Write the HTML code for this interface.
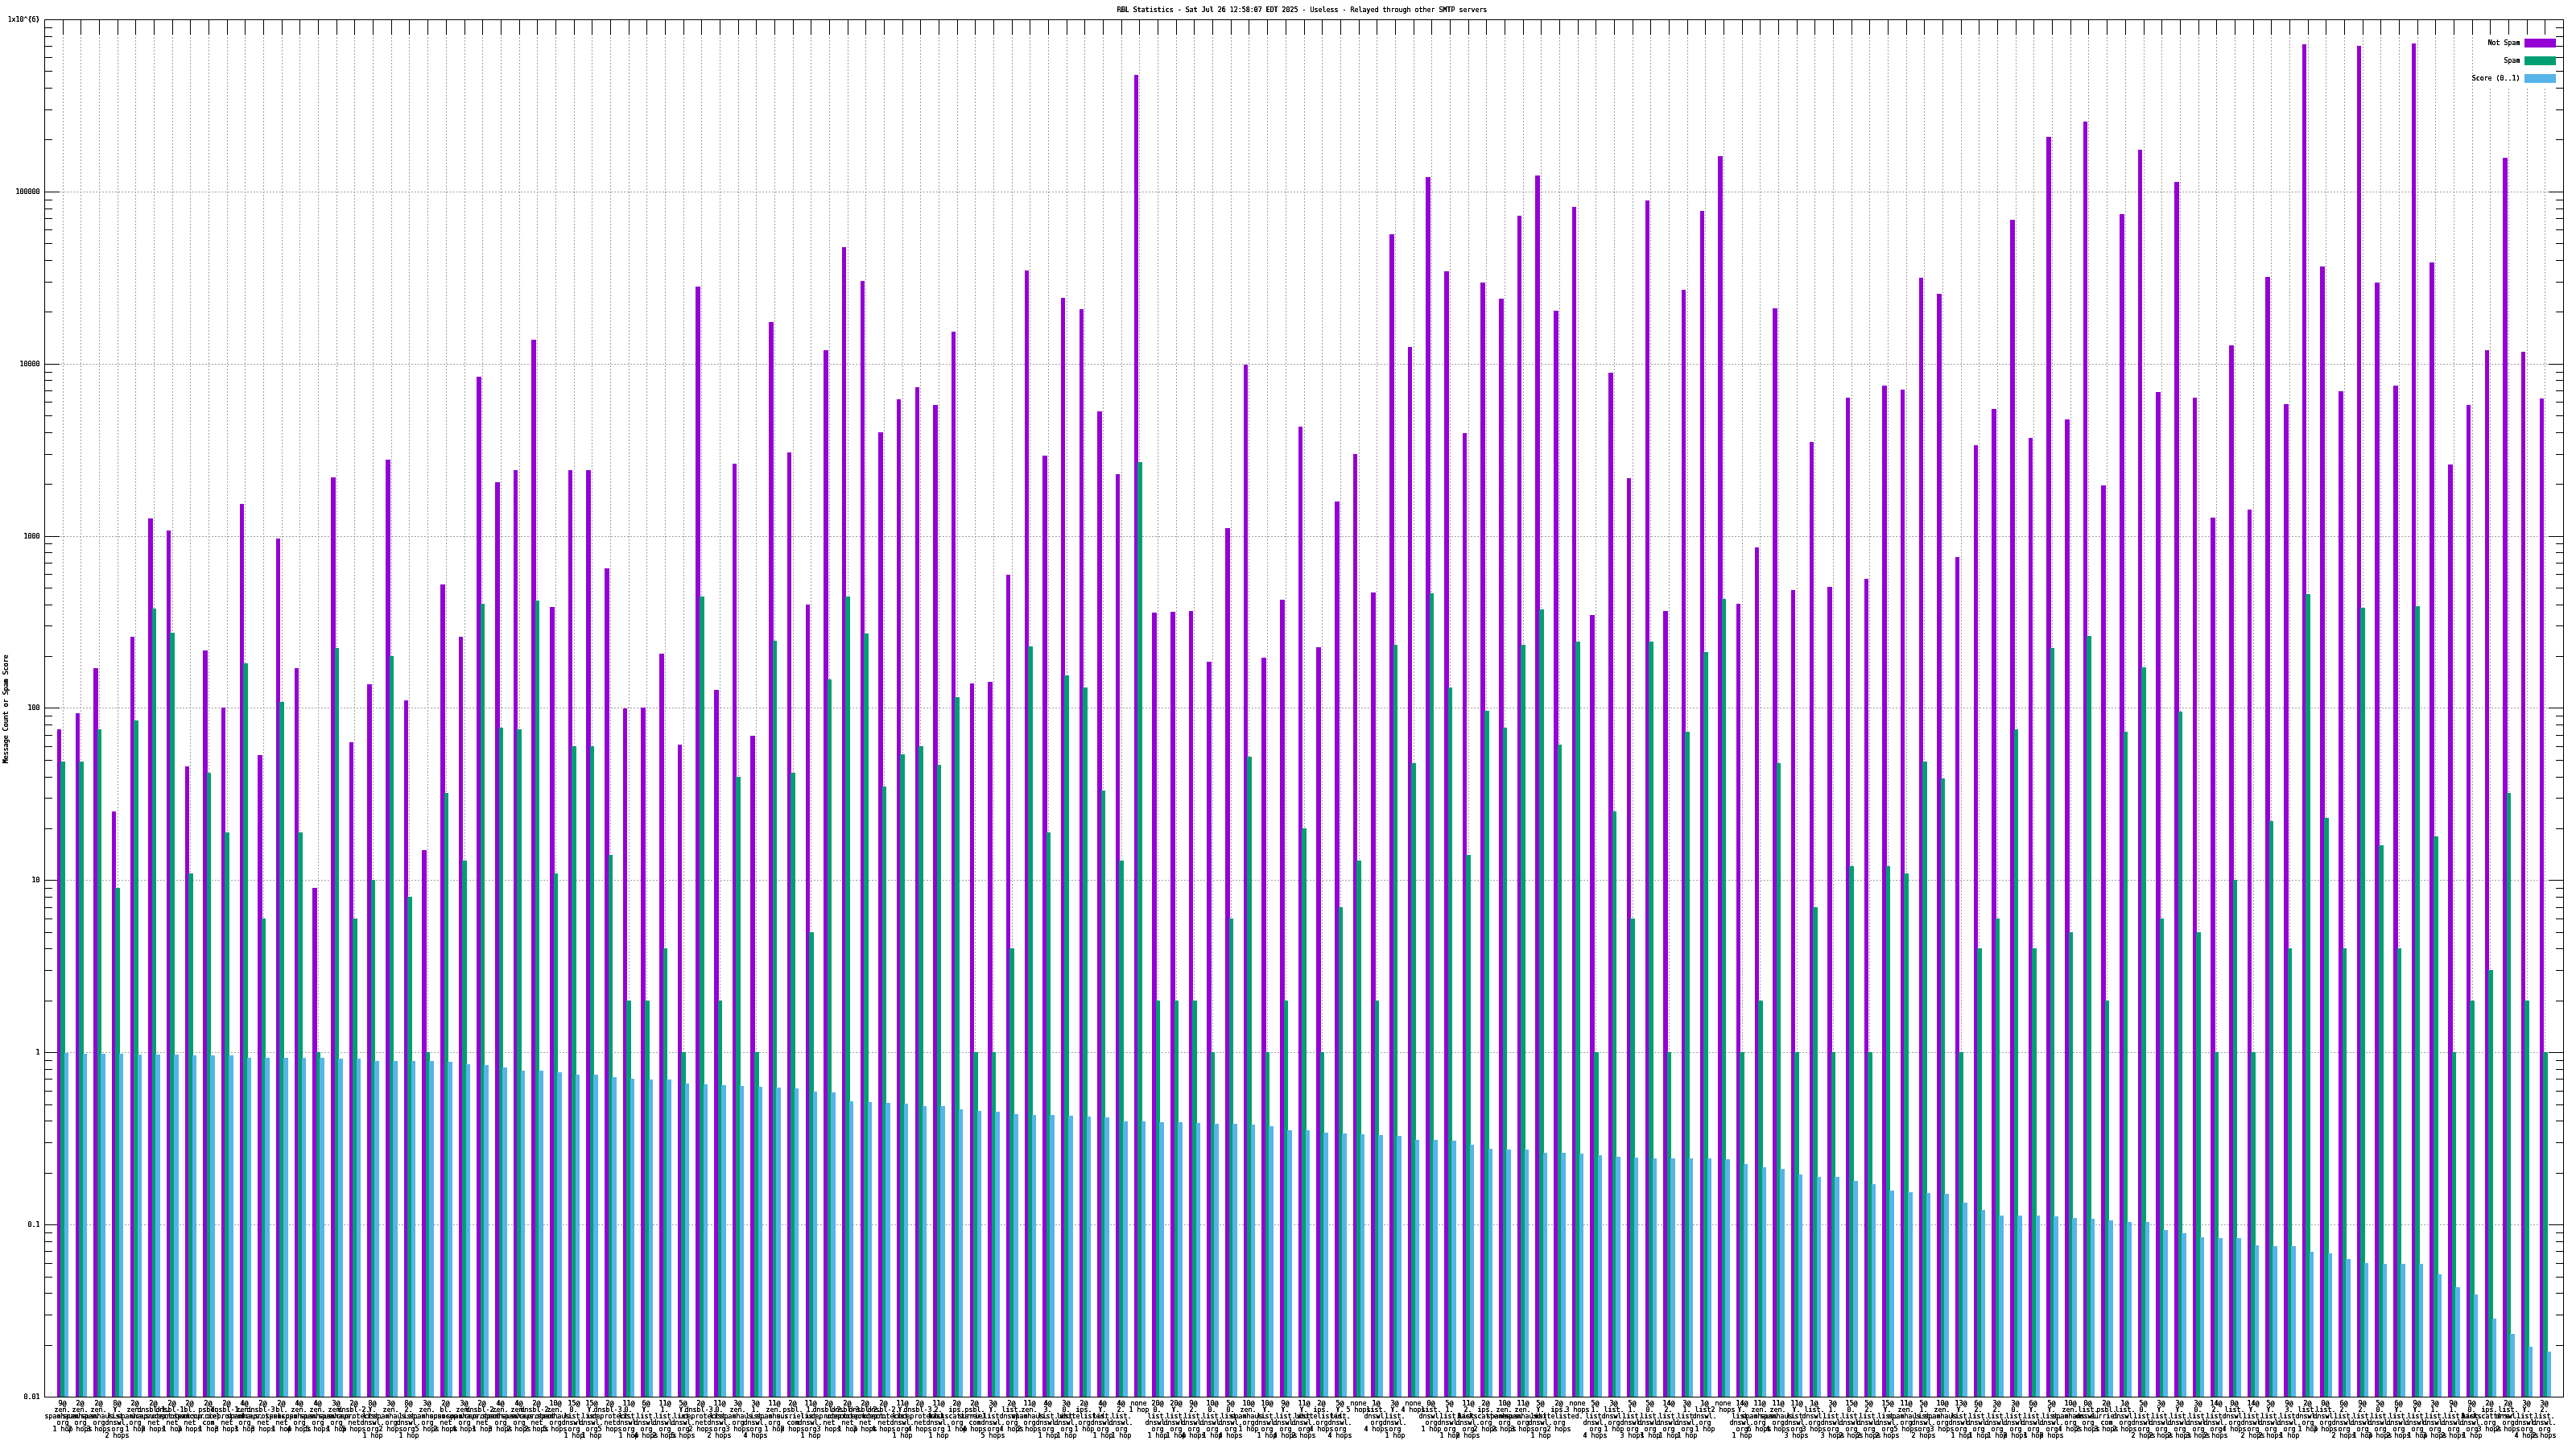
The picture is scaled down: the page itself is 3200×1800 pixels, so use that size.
<!DOCTYPE html>
<html><head><meta charset="utf-8"><title>RBL Statistics</title>
<style>html,body{margin:0;padding:0;background:#fff}svg{display:block}text{font-family:"DejaVu Sans Mono", "Liberation Mono", monospace;font-size:8.3050px;fill:#000;stroke:#000;stroke-width:0.08px;white-space:pre}.g{stroke:#a0a0a0;stroke-width:1;stroke-dasharray:2 2;fill:none}.k{stroke:#000;stroke-width:1;fill:none}.m{text-anchor:middle}.e{text-anchor:end}.a{stroke-width:0.08px}</style></head><body>
<svg width="3200" height="1800" viewBox="0 0 3200 1800" shape-rendering="crispEdges">
<defs><filter id="c" x="0" y="0" width="100%" height="100%"><feComponentTransfer><feFuncA type="linear" slope="2.4" intercept="-0.25"/></feComponentTransfer></filter></defs>
<rect width="3200" height="1800" fill="#fff"/>
<path class="g" d="M78.5 1736 V43M100.5 1736 V43M123.5 1736 V43M146.5 1736 V43M168.5 1736 V43M191.5 1736 V43M214.5 1736 V43M236.5 1736 V43M259.5 1736 V43M282.5 1736 V43M304.5 1736 V43M327.5 1736 V43M350.5 1736 V43M372.5 1736 V43M395.5 1736 V43M418.5 1736 V43M440.5 1736 V43M463.5 1736 V43M486.5 1736 V43M508.5 1736 V43M531.5 1736 V43M554.5 1736 V43M577.5 1736 V43M599.5 1736 V43M622.5 1736 V43M645.5 1736 V43M667.5 1736 V43M690.5 1736 V43M713.5 1736 V43M735.5 1736 V43M758.5 1736 V43M781.5 1736 V43M803.5 1736 V43M826.5 1736 V43M849.5 1736 V43M871.5 1736 V43M894.5 1736 V43M917.5 1736 V43M939.5 1736 V43M962.5 1736 V43M985.5 1736 V43M1007.5 1736 V43M1030.5 1736 V43M1053.5 1736 V43M1075.5 1736 V43M1098.5 1736 V43M1121.5 1736 V43M1143.5 1736 V43M1166.5 1736 V43M1189.5 1736 V43M1211.5 1736 V43M1234.5 1736 V43M1257.5 1736 V43M1279.5 1736 V43M1302.5 1736 V43M1325.5 1736 V43M1347.5 1736 V43M1370.5 1736 V43M1393.5 1736 V43M1415.5 1736 V43M1438.5 1736 V43M1461.5 1736 V43M1483.5 1736 V43M1506.5 1736 V43M1529.5 1736 V43M1551.5 1736 V43M1574.5 1736 V43M1597.5 1736 V43M1620.5 1736 V43M1642.5 1736 V43M1665.5 1736 V43M1688.5 1736 V43M1710.5 1736 V43M1733.5 1736 V43M1756.5 1736 V43M1778.5 1736 V43M1801.5 1736 V43M1824.5 1736 V43M1846.5 1736 V43M1869.5 1736 V43M1892.5 1736 V43M1914.5 1736 V43M1937.5 1736 V43M1960.5 1736 V43M1982.5 1736 V43M2005.5 1736 V43M2028.5 1736 V43M2050.5 1736 V43M2073.5 1736 V43M2096.5 1736 V43M2118.5 1736 V43M2141.5 1736 V43M2164.5 1736 V43M2186.5 1736 V43M2209.5 1736 V43M2232.5 1736 V43M2254.5 1736 V43M2277.5 1736 V43M2300.5 1736 V43M2322.5 1736 V43M2345.5 1736 V43M2368.5 1736 V43M2390.5 1736 V43M2413.5 1736 V43M2436.5 1736 V43M2458.5 1736 V43M2481.5 1736 V43M2504.5 1736 V43M2526.5 1736 V43M2549.5 1736 V43M2572.5 1736 V43M2594.5 1736 V43M2617.5 1736 V43M2640.5 1736 V43M2663.5 1736 V43M2685.5 1736 V43M2708.5 1736 V43M2731.5 1736 V43M2753.5 1736 V43M2776.5 1736 V43M2799.5 1736 V43M2821.5 1736 V43M2844.5 1736 V43M2867.5 1736 V43M2889.5 1736 V43M2912.5 1736 V43M2935.5 1736 V43M2957.5 1736 V43M2980.5 1736 V43M3003.5 1736 V43M3025.5 1736 V43M3048.5 1736 V43M3071.5 1736 V43M3093.5 1736 V43M3116.5 1736 V43M3139.5 1736 V43M3161.5 1736 V43M55 1521.5 H3184M55 1307.5 H3184M55 1093.5 H3184M55 879.5 H3184M55 666.5 H3184M55 452.5 H3184M55 238.5 H3184"/>
<rect x="3075" y="43" width="109" height="67" fill="#fff"/>
<path class="k" d="M78.5 24 v19M78.5 1736 v-19M100.5 24 v19M100.5 1736 v-19M123.5 24 v19M123.5 1736 v-19M146.5 24 v19M146.5 1736 v-19M168.5 24 v19M168.5 1736 v-19M191.5 24 v19M191.5 1736 v-19M214.5 24 v19M214.5 1736 v-19M236.5 24 v19M236.5 1736 v-19M259.5 24 v19M259.5 1736 v-19M282.5 24 v19M282.5 1736 v-19M304.5 24 v19M304.5 1736 v-19M327.5 24 v19M327.5 1736 v-19M350.5 24 v19M350.5 1736 v-19M372.5 24 v19M372.5 1736 v-19M395.5 24 v19M395.5 1736 v-19M418.5 24 v19M418.5 1736 v-19M440.5 24 v19M440.5 1736 v-19M463.5 24 v19M463.5 1736 v-19M486.5 24 v19M486.5 1736 v-19M508.5 24 v19M508.5 1736 v-19M531.5 24 v19M531.5 1736 v-19M554.5 24 v19M554.5 1736 v-19M577.5 24 v19M577.5 1736 v-19M599.5 24 v19M599.5 1736 v-19M622.5 24 v19M622.5 1736 v-19M645.5 24 v19M645.5 1736 v-19M667.5 24 v19M667.5 1736 v-19M690.5 24 v19M690.5 1736 v-19M713.5 24 v19M713.5 1736 v-19M735.5 24 v19M735.5 1736 v-19M758.5 24 v19M758.5 1736 v-19M781.5 24 v19M781.5 1736 v-19M803.5 24 v19M803.5 1736 v-19M826.5 24 v19M826.5 1736 v-19M849.5 24 v19M849.5 1736 v-19M871.5 24 v19M871.5 1736 v-19M894.5 24 v19M894.5 1736 v-19M917.5 24 v19M917.5 1736 v-19M939.5 24 v19M939.5 1736 v-19M962.5 24 v19M962.5 1736 v-19M985.5 24 v19M985.5 1736 v-19M1007.5 24 v19M1007.5 1736 v-19M1030.5 24 v19M1030.5 1736 v-19M1053.5 24 v19M1053.5 1736 v-19M1075.5 24 v19M1075.5 1736 v-19M1098.5 24 v19M1098.5 1736 v-19M1121.5 24 v19M1121.5 1736 v-19M1143.5 24 v19M1143.5 1736 v-19M1166.5 24 v19M1166.5 1736 v-19M1189.5 24 v19M1189.5 1736 v-19M1211.5 24 v19M1211.5 1736 v-19M1234.5 24 v19M1234.5 1736 v-19M1257.5 24 v19M1257.5 1736 v-19M1279.5 24 v19M1279.5 1736 v-19M1302.5 24 v19M1302.5 1736 v-19M1325.5 24 v19M1325.5 1736 v-19M1347.5 24 v19M1347.5 1736 v-19M1370.5 24 v19M1370.5 1736 v-19M1393.5 24 v19M1393.5 1736 v-19M1415.5 24 v19M1415.5 1736 v-19M1438.5 24 v19M1438.5 1736 v-19M1461.5 24 v19M1461.5 1736 v-19M1483.5 24 v19M1483.5 1736 v-19M1506.5 24 v19M1506.5 1736 v-19M1529.5 24 v19M1529.5 1736 v-19M1551.5 24 v19M1551.5 1736 v-19M1574.5 24 v19M1574.5 1736 v-19M1597.5 24 v19M1597.5 1736 v-19M1620.5 24 v19M1620.5 1736 v-19M1642.5 24 v19M1642.5 1736 v-19M1665.5 24 v19M1665.5 1736 v-19M1688.5 24 v19M1688.5 1736 v-19M1710.5 24 v19M1710.5 1736 v-19M1733.5 24 v19M1733.5 1736 v-19M1756.5 24 v19M1756.5 1736 v-19M1778.5 24 v19M1778.5 1736 v-19M1801.5 24 v19M1801.5 1736 v-19M1824.5 24 v19M1824.5 1736 v-19M1846.5 24 v19M1846.5 1736 v-19M1869.5 24 v19M1869.5 1736 v-19M1892.5 24 v19M1892.5 1736 v-19M1914.5 24 v19M1914.5 1736 v-19M1937.5 24 v19M1937.5 1736 v-19M1960.5 24 v19M1960.5 1736 v-19M1982.5 24 v19M1982.5 1736 v-19M2005.5 24 v19M2005.5 1736 v-19M2028.5 24 v19M2028.5 1736 v-19M2050.5 24 v19M2050.5 1736 v-19M2073.5 24 v19M2073.5 1736 v-19M2096.5 24 v19M2096.5 1736 v-19M2118.5 24 v19M2118.5 1736 v-19M2141.5 24 v19M2141.5 1736 v-19M2164.5 24 v19M2164.5 1736 v-19M2186.5 24 v19M2186.5 1736 v-19M2209.5 24 v19M2209.5 1736 v-19M2232.5 24 v19M2232.5 1736 v-19M2254.5 24 v19M2254.5 1736 v-19M2277.5 24 v19M2277.5 1736 v-19M2300.5 24 v19M2300.5 1736 v-19M2322.5 24 v19M2322.5 1736 v-19M2345.5 24 v19M2345.5 1736 v-19M2368.5 24 v19M2368.5 1736 v-19M2390.5 24 v19M2390.5 1736 v-19M2413.5 24 v19M2413.5 1736 v-19M2436.5 24 v19M2436.5 1736 v-19M2458.5 24 v19M2458.5 1736 v-19M2481.5 24 v19M2481.5 1736 v-19M2504.5 24 v19M2504.5 1736 v-19M2526.5 24 v19M2526.5 1736 v-19M2549.5 24 v19M2549.5 1736 v-19M2572.5 24 v19M2572.5 1736 v-19M2594.5 24 v19M2594.5 1736 v-19M2617.5 24 v19M2617.5 1736 v-19M2640.5 24 v19M2640.5 1736 v-19M2663.5 24 v19M2663.5 1736 v-19M2685.5 24 v19M2685.5 1736 v-19M2708.5 24 v19M2708.5 1736 v-19M2731.5 24 v19M2731.5 1736 v-19M2753.5 24 v19M2753.5 1736 v-19M2776.5 24 v19M2776.5 1736 v-19M2799.5 24 v19M2799.5 1736 v-19M2821.5 24 v19M2821.5 1736 v-19M2844.5 24 v19M2844.5 1736 v-19M2867.5 24 v19M2867.5 1736 v-19M2889.5 24 v19M2889.5 1736 v-19M2912.5 24 v19M2912.5 1736 v-19M2935.5 24 v19M2935.5 1736 v-19M2957.5 24 v19M2957.5 1736 v-19M2980.5 24 v19M2980.5 1736 v-19M3003.5 24 v19M3003.5 1736 v-19M3025.5 24 v19M3025.5 1736 v-19M3048.5 24 v19M3048.5 1736 v-19M3071.5 24 v19M3071.5 1736 v-19M3093.5 24 v19M3093.5 1736 v-19M3116.5 24 v19M3116.5 1736 v-19M3139.5 24 v19M3139.5 1736 v-19M3161.5 24 v19M3161.5 1736 v-19M55 1735.5 h19M3185 1735.5 h-19M55 1671.5 h10M3185 1671.5 h-10M55 1633.5 h10M3185 1633.5 h-10M55 1606.5 h10M3185 1606.5 h-10M55 1586.5 h10M3185 1586.5 h-10M55 1569.5 h10M3185 1569.5 h-10M55 1554.5 h10M3185 1554.5 h-10M55 1542.5 h10M3185 1542.5 h-10M55 1531.5 h10M3185 1531.5 h-10M55 1521.5 h19M3185 1521.5 h-19M55 1457.5 h10M3185 1457.5 h-10M55 1419.5 h10M3185 1419.5 h-10M55 1392.5 h10M3185 1392.5 h-10M55 1372.5 h10M3185 1372.5 h-10M55 1355.5 h10M3185 1355.5 h-10M55 1340.5 h10M3185 1340.5 h-10M55 1328.5 h10M3185 1328.5 h-10M55 1317.5 h10M3185 1317.5 h-10M55 1307.5 h19M3185 1307.5 h-19M55 1243.5 h10M3185 1243.5 h-10M55 1205.5 h10M3185 1205.5 h-10M55 1178.5 h10M3185 1178.5 h-10M55 1158.5 h10M3185 1158.5 h-10M55 1141.5 h10M3185 1141.5 h-10M55 1127.5 h10M3185 1127.5 h-10M55 1114.5 h10M3185 1114.5 h-10M55 1103.5 h10M3185 1103.5 h-10M55 1093.5 h19M3185 1093.5 h-19M55 1029.5 h10M3185 1029.5 h-10M55 991.5 h10M3185 991.5 h-10M55 965.5 h10M3185 965.5 h-10M55 944.5 h10M3185 944.5 h-10M55 927.5 h10M3185 927.5 h-10M55 913.5 h10M3185 913.5 h-10M55 900.5 h10M3185 900.5 h-10M55 889.5 h10M3185 889.5 h-10M55 879.5 h19M3185 879.5 h-19M55 815.5 h10M3185 815.5 h-10M55 777.5 h10M3185 777.5 h-10M55 751.5 h10M3185 751.5 h-10M55 730.5 h10M3185 730.5 h-10M55 713.5 h10M3185 713.5 h-10M55 699.5 h10M3185 699.5 h-10M55 686.5 h10M3185 686.5 h-10M55 675.5 h10M3185 675.5 h-10M55 666.5 h19M3185 666.5 h-19M55 601.5 h10M3185 601.5 h-10M55 564.5 h10M3185 564.5 h-10M55 537.5 h10M3185 537.5 h-10M55 516.5 h10M3185 516.5 h-10M55 499.5 h10M3185 499.5 h-10M55 485.5 h10M3185 485.5 h-10M55 472.5 h10M3185 472.5 h-10M55 462.5 h10M3185 462.5 h-10M55 452.5 h19M3185 452.5 h-19M55 387.5 h10M3185 387.5 h-10M55 350.5 h10M3185 350.5 h-10M55 323.5 h10M3185 323.5 h-10M55 302.5 h10M3185 302.5 h-10M55 285.5 h10M3185 285.5 h-10M55 271.5 h10M3185 271.5 h-10M55 259.5 h10M3185 259.5 h-10M55 248.5 h10M3185 248.5 h-10M55 238.5 h19M3185 238.5 h-19M55 173.5 h10M3185 173.5 h-10M55 136.5 h10M3185 136.5 h-10M55 109.5 h10M3185 109.5 h-10M55 88.5 h10M3185 88.5 h-10M55 71.5 h10M3185 71.5 h-10M55 57.5 h10M3185 57.5 h-10M55 45.5 h10M3185 45.5 h-10M55 34.5 h10M3185 34.5 h-10M55 24.5 h19M3185 24.5 h-19"/>
<path fill="#9400d3" d="M71 1735H76V906H71zM94 1735H99V886H94zM116 1735H122V830H116zM139 1735H144V1008H139zM162 1735H167V791H162zM184 1735H190V644H184zM207 1735H212V659H207zM230 1735H235V952H230zM252 1735H258V808H252zM275 1735H280V879H275zM298 1735H303V626H298zM320 1735H326V938H320zM343 1735H348V669H343zM366 1735H371V830H366zM388 1735H394V1103H388zM411 1735H417V593H411zM434 1735H439V922H434zM456 1735H462V850H456zM479 1735H485V571H479zM502 1735H507V870H502zM524 1735H530V1056H524zM547 1735H553V726H547zM570 1735H575V791H570zM592 1735H598V468H592zM615 1735H621V599H615zM638 1735H643V584H638zM660 1735H666V422H660zM683 1735H689V754H683zM706 1735H711V584H706zM728 1735H734V584H728zM751 1735H757V706H751zM774 1735H779V880H774zM796 1735H802V879H796zM819 1735H825V812H819zM842 1735H847V925H842zM864 1735H870V356H864zM887 1735H893V857H887zM910 1735H915V576H910zM932 1735H938V914H932zM955 1735H961V400H955zM978 1735H983V562H978zM1001 1735H1006V751H1001zM1023 1735H1029V435H1023zM1046 1735H1051V307H1046zM1069 1735H1074V349H1069zM1091 1735H1097V537H1091zM1114 1735H1119V496H1114zM1137 1735H1142V481H1137zM1159 1735H1165V503H1159zM1182 1735H1187V412H1182zM1205 1735H1210V849H1205zM1227 1735H1233V847H1227zM1250 1735H1255V714H1250zM1273 1735H1278V336H1273zM1295 1735H1301V566H1295zM1318 1735H1323V370H1318zM1341 1735H1346V384H1341zM1363 1735H1369V511H1363zM1386 1735H1391V589H1386zM1409 1735H1414V93H1409zM1431 1735H1437V761H1431zM1454 1735H1460V760H1454zM1477 1735H1482V759H1477zM1499 1735H1505V822H1499zM1522 1735H1528V656H1522zM1545 1735H1550V453H1545zM1567 1735H1573V817H1567zM1590 1735H1596V745H1590zM1613 1735H1618V530H1613zM1635 1735H1641V804H1635zM1658 1735H1664V623H1658zM1681 1735H1686V564H1681zM1703 1735H1709V736H1703zM1726 1735H1732V291H1726zM1749 1735H1754V431H1749zM1771 1735H1777V220H1771zM1794 1735H1800V337H1794zM1817 1735H1822V538H1817zM1839 1735H1845V351H1839zM1862 1735H1868V371H1862zM1885 1735H1890V268H1885zM1907 1735H1913V218H1907zM1930 1735H1936V386H1930zM1953 1735H1958V257H1953zM1975 1735H1981V764H1975zM1998 1735H2004V463H1998zM2021 1735H2026V594H2021zM2044 1735H2049V249H2044zM2066 1735H2072V759H2066zM2089 1735H2094V360H2089zM2112 1735H2117V262H2112zM2134 1735H2140V194H2134zM2157 1735H2162V750H2157zM2180 1735H2185V680H2180zM2202 1735H2208V383H2202zM2225 1735H2230V733H2225zM2248 1735H2253V549H2248zM2270 1735H2276V729H2270zM2293 1735H2298V494H2293zM2316 1735H2321V719H2316zM2338 1735H2344V479H2338zM2361 1735H2366V484H2361zM2384 1735H2389V345H2384zM2406 1735H2412V365H2406zM2429 1735H2434V692H2429zM2452 1735H2457V553H2452zM2474 1735H2480V508H2474zM2497 1735H2503V273H2497zM2520 1735H2525V544H2520zM2542 1735H2548V170H2542zM2565 1735H2571V521H2565zM2588 1735H2593V151H2588zM2610 1735H2616V603H2610zM2633 1735H2639V266H2633zM2656 1735H2661V186H2656zM2678 1735H2684V487H2678zM2701 1735H2707V226H2701zM2724 1735H2729V494H2724zM2746 1735H2752V643H2746zM2769 1735H2775V429H2769zM2792 1735H2797V633H2792zM2814 1735H2820V344H2814zM2837 1735H2843V502H2837zM2860 1735H2865V55H2860zM2882 1735H2888V331H2882zM2905 1735H2911V486H2905zM2928 1735H2933V57H2928zM2950 1735H2956V351H2950zM2973 1735H2979V479H2973zM2996 1735H3001V54H2996zM3018 1735H3024V326H3018zM3041 1735H3047V577H3041zM3064 1735H3069V503H3064zM3087 1735H3092V435H3087zM3109 1735H3115V196H3109zM3132 1735H3137V437H3132zM3155 1735H3160V495H3155z"/>
<path fill="#009e73" d="M75 1735H81V946H75zM98 1735H104V946H98zM121 1735H126V906H121zM143 1735H149V1103H143zM166 1735H172V895H166zM189 1735H194V756H189zM211 1735H217V786H211zM234 1735H240V1085H234zM257 1735H262V960H257zM279 1735H285V1034H279zM302 1735H308V824H302zM325 1735H330V1141H325zM347 1735H353V872H347zM370 1735H376V1034H370zM393 1735H398V1307H393zM416 1735H421V805H416zM438 1735H444V1141H438zM461 1735H466V1093H461zM484 1735H489V815H484zM506 1735H512V1114H506zM529 1735H534V1307H529zM552 1735H557V985H552zM574 1735H580V1069H574zM597 1735H602V750H597zM620 1735H625V904H620zM642 1735H648V906H642zM665 1735H670V746H665zM688 1735H693V1085H688zM710 1735H716V927H710zM733 1735H738V927H733zM756 1735H761V1062H756zM778 1735H784V1243H778zM801 1735H807V1243H801zM824 1735H829V1178H824zM846 1735H852V1307H846zM869 1735H875V741H869zM892 1735H897V1243H892zM914 1735H920V965H914zM937 1735H943V1307H937zM960 1735H965V796H960zM982 1735H988V960H982zM1005 1735H1011V1158H1005zM1028 1735H1033V844H1028zM1050 1735H1056V741H1050zM1073 1735H1079V787H1073zM1096 1735H1101V977H1096zM1118 1735H1124V937H1118zM1141 1735H1147V927H1141zM1164 1735H1169V950H1164zM1186 1735H1192V866H1186zM1209 1735H1215V1307H1209zM1232 1735H1237V1307H1232zM1254 1735H1260V1178H1254zM1277 1735H1283V803H1277zM1300 1735H1305V1034H1300zM1322 1735H1328V839H1322zM1345 1735H1351V854H1345zM1368 1735H1373V982H1368zM1390 1735H1396V1069H1390zM1413 1735H1419V574H1413zM1436 1735H1441V1243H1436zM1459 1735H1464V1243H1459zM1481 1735H1487V1243H1481zM1504 1735H1509V1307H1504zM1527 1735H1532V1141H1527zM1549 1735H1555V940H1549zM1572 1735H1577V1307H1572zM1595 1735H1600V1243H1595zM1617 1735H1623V1029H1617zM1640 1735H1645V1307H1640zM1663 1735H1668V1127H1663zM1685 1735H1691V1069H1685zM1708 1735H1713V1243H1708zM1731 1735H1736V801H1731zM1753 1735H1759V948H1753zM1776 1735H1781V737H1776zM1799 1735H1804V854H1799zM1821 1735H1827V1062H1821zM1844 1735H1850V883H1844zM1867 1735H1872V904H1867zM1889 1735H1895V801H1889zM1912 1735H1918V757H1912zM1935 1735H1940V925H1935zM1957 1735H1963V797H1957zM1980 1735H1986V1307H1980zM2003 1735H2008V1008H2003zM2025 1735H2031V1141H2025zM2048 1735H2054V797H2048zM2071 1735H2076V1307H2071zM2093 1735H2099V909H2093zM2116 1735H2122V810H2116zM2139 1735H2144V744H2139zM2161 1735H2167V1307H2161zM2184 1735H2190V1243H2184zM2207 1735H2212V948H2207zM2229 1735H2235V1307H2229zM2252 1735H2258V1127H2252zM2275 1735H2280V1307H2275zM2297 1735H2303V1076H2297zM2320 1735H2326V1307H2320zM2343 1735H2348V1076H2343zM2365 1735H2371V1085H2365zM2388 1735H2394V946H2388zM2411 1735H2416V967H2411zM2433 1735H2439V1307H2433zM2456 1735H2462V1178H2456zM2479 1735H2484V1141H2479zM2502 1735H2507V906H2502zM2524 1735H2530V1178H2524zM2547 1735H2552V805H2547zM2570 1735H2575V1158H2570zM2592 1735H2598V790H2592zM2615 1735H2620V1243H2615zM2638 1735H2643V909H2638zM2660 1735H2666V829H2660zM2683 1735H2688V1141H2683zM2706 1735H2711V884H2706zM2728 1735H2734V1158H2728zM2751 1735H2756V1307H2751zM2774 1735H2779V1093H2774zM2796 1735H2802V1307H2796zM2819 1735H2824V1020H2819zM2842 1735H2847V1178H2842zM2864 1735H2870V738H2864zM2887 1735H2893V1016H2887zM2910 1735H2915V1178H2910zM2932 1735H2938V755H2932zM2955 1735H2961V1050H2955zM2978 1735H2983V1178H2978zM3000 1735H3006V753H3000zM3023 1735H3029V1039H3023zM3046 1735H3051V1307H3046zM3068 1735H3074V1243H3068zM3091 1735H3097V1205H3091zM3114 1735H3119V985H3114zM3136 1735H3142V1243H3136zM3159 1735H3165V1307H3159z"/>
<path fill="#56b4e9" d="M80 1735H85V1308H80zM103 1735H108V1309H103zM125 1735H131V1309H125zM148 1735H153V1309H148zM171 1735H176V1310H171zM193 1735H199V1310H193zM216 1735H222V1310H216zM239 1735H244V1311H239zM261 1735H267V1311H261zM284 1735H290V1311H284zM307 1735H312V1314H307zM329 1735H335V1314H329zM352 1735H358V1314H352zM375 1735H380V1314H375zM397 1735H403V1314H397zM420 1735H426V1315H420zM443 1735H448V1315H443zM465 1735H471V1318H465zM488 1735H494V1318H488zM511 1735H516V1318H511zM533 1735H539V1318H533zM556 1735H562V1319H556zM579 1735H584V1322H579zM601 1735H607V1323H601zM624 1735H630V1326H624zM647 1735H652V1330H647zM669 1735H675V1330H669zM692 1735H698V1332H692zM715 1735H720V1335H715zM737 1735H743V1335H737zM760 1735H766V1338H760zM783 1735H788V1340H783zM806 1735H811V1341H806zM828 1735H834V1341H828zM851 1735H856V1346H851zM874 1735H879V1347H874zM896 1735H902V1348H896zM919 1735H924V1349H919zM942 1735H947V1350H942zM964 1735H970V1351H964zM987 1735H992V1352H987zM1010 1735H1015V1356H1010zM1032 1735H1038V1357H1032zM1055 1735H1060V1368H1055zM1078 1735H1083V1369H1078zM1100 1735H1106V1370H1100zM1123 1735H1128V1371H1123zM1146 1735H1151V1374H1146zM1168 1735H1174V1374H1168zM1191 1735H1196V1378H1191zM1214 1735H1219V1380H1214zM1236 1735H1242V1381H1236zM1259 1735H1265V1384H1259zM1282 1735H1287V1385H1282zM1304 1735H1310V1385H1304zM1327 1735H1333V1386H1327zM1350 1735H1355V1387H1350zM1372 1735H1378V1388H1372zM1395 1735H1401V1393H1395zM1418 1735H1423V1393H1418zM1440 1735H1446V1394H1440zM1463 1735H1469V1394H1463zM1486 1735H1491V1395H1486zM1508 1735H1514V1396H1508zM1531 1735H1537V1396H1531zM1554 1735H1559V1397H1554zM1576 1735H1582V1399H1576zM1599 1735H1605V1404H1599zM1622 1735H1627V1404H1622zM1644 1735H1650V1407H1644zM1667 1735H1673V1408H1667zM1690 1735H1695V1409H1690zM1712 1735H1718V1410H1712zM1735 1735H1741V1411H1735zM1758 1735H1763V1416H1758zM1780 1735H1786V1416H1780zM1803 1735H1809V1417H1803zM1826 1735H1831V1422H1826zM1849 1735H1854V1427H1849zM1871 1735H1877V1428H1871zM1894 1735H1899V1428H1894zM1917 1735H1922V1432H1917zM1939 1735H1945V1432H1939zM1962 1735H1967V1433H1962zM1985 1735H1990V1435H1985zM2007 1735H2013V1437H2007zM2030 1735H2035V1438H2030zM2053 1735H2058V1439H2053zM2075 1735H2081V1439H2075zM2098 1735H2103V1439H2098zM2121 1735H2126V1439H2121zM2143 1735H2149V1440H2143zM2166 1735H2171V1446H2166zM2189 1735H2194V1450H2189zM2211 1735H2217V1452H2211zM2234 1735H2239V1459H2234zM2257 1735H2262V1462H2257zM2279 1735H2285V1462H2279zM2302 1735H2308V1467H2302zM2325 1735H2330V1471H2325zM2347 1735H2353V1479H2347zM2370 1735H2376V1481H2370zM2393 1735H2398V1482H2393zM2415 1735H2421V1483H2415zM2438 1735H2444V1494H2438zM2461 1735H2466V1503H2461zM2483 1735H2489V1510H2483zM2506 1735H2512V1510H2506zM2529 1735H2534V1510H2529zM2551 1735H2557V1511H2551zM2574 1735H2580V1513H2574zM2597 1735H2602V1514H2597zM2619 1735H2625V1516H2619zM2642 1735H2648V1518H2642zM2665 1735H2670V1518H2665zM2687 1735H2693V1528H2687zM2710 1735H2716V1532H2710zM2733 1735H2738V1537H2733zM2755 1735H2761V1538H2755zM2778 1735H2784V1538H2778zM2801 1735H2806V1547H2801zM2823 1735H2829V1548H2823zM2846 1735H2852V1548H2846zM2869 1735H2874V1555H2869zM2892 1735H2897V1557H2892zM2914 1735H2920V1564H2914zM2937 1735H2942V1569H2937zM2960 1735H2965V1570H2960zM2982 1735H2988V1570H2982zM3005 1735H3010V1570H3005zM3028 1735H3033V1583H3028zM3050 1735H3056V1599H3050zM3073 1735H3078V1608H3073zM3096 1735H3101V1638H3096zM3118 1735H3124V1657H3118zM3141 1735H3146V1673H3141zM3164 1735H3169V1679H3164z"/>
<rect class="k" x="55.5" y="24.5" width="3129" height="1711"/>
<rect x="3136" y="48" width="39" height="11" fill="#9400d3"/>
<rect x="3136" y="70" width="39" height="11" fill="#009e73"/>
<rect x="3136" y="92" width="39" height="11" fill="#56b4e9"/>
<g filter="url(#c)"><text class="e" x="3130.6" y="56">Not Spam</text>
<text class="e" x="3130.6" y="78">Spam</text>
<text class="e" x="3130.6" y="100">Score (0..1)</text>
<text class="m" x="1617.6" y="14.5">RBL Statistics - Sat Jul 26 12:58:07 EDT 2025 - Useless - Relayed through other SMTP servers</text>
<text class="m" transform="translate(10,880.7) rotate(-90)">Message Count or Spam Score</text>
<text class="e" x="49.6" y="1738.0">0.01</text>
<text class="e" x="49.6" y="1524.0">0.1</text>
<text class="e" x="49.6" y="1310.0">1</text>
<text class="e" x="49.6" y="1096.0">10</text>
<text class="e" x="49.6" y="882.0">100</text>
<text class="e" x="49.6" y="669.0">1000</text>
<text class="e" x="49.6" y="455.0">10000</text>
<text class="e" x="49.6" y="241.0">100000</text>
<text class="e" x="49.6" y="27.0">1x10^{6}</text>
<text class="m"><tspan x="77.6" y="1746">9<tspan class="a">@</tspan></tspan><tspan x="77.6" y="1754">zen.</tspan><tspan x="78.1" y="1762">spamhaus.</tspan><tspan x="78.1" y="1770">org</tspan><tspan x="78.1" y="1778">1 hop</tspan></text>
<text class="m"><tspan x="99.6" y="1746">2<tspan class="a">@</tspan></tspan><tspan x="99.6" y="1754">zen.</tspan><tspan x="100.1" y="1762">spamhaus.</tspan><tspan x="100.1" y="1770">org</tspan><tspan x="99.6" y="1778">2 hops</tspan></text>
<text class="m"><tspan x="122.6" y="1746">2<tspan class="a">@</tspan></tspan><tspan x="122.6" y="1754">zen.</tspan><tspan x="123.1" y="1762">spamhaus.</tspan><tspan x="123.1" y="1770">org</tspan><tspan x="122.6" y="1778">3 hops</tspan></text>
<text class="m"><tspan x="145.6" y="1746">8<tspan class="a">@</tspan></tspan><tspan x="145.6" y="1754">Y.</tspan><tspan x="146.1" y="1762">list.</tspan><tspan x="145.6" y="1770">dnswl.</tspan><tspan x="146.1" y="1778">org</tspan><tspan x="145.6" y="1786">2 hops</tspan></text>
<text class="m"><tspan x="167.6" y="1746">2<tspan class="a">@</tspan></tspan><tspan x="167.6" y="1754">zen.</tspan><tspan x="168.1" y="1762">spamhaus.</tspan><tspan x="168.1" y="1770">org</tspan><tspan x="168.1" y="1778">1 hop</tspan></text>
<text class="m"><tspan x="190.6" y="1746">2<tspan class="a">@</tspan></tspan><tspan x="190.6" y="1754">dnsbl-1.</tspan><tspan x="191.1" y="1762">uceprotect.</tspan><tspan x="191.1" y="1770">net</tspan><tspan x="190.6" y="1778">2 hops</tspan></text>
<text class="m"><tspan x="213.6" y="1746">2<tspan class="a">@</tspan></tspan><tspan x="213.6" y="1754">dnsbl-1.</tspan><tspan x="214.1" y="1762">uceprotect.</tspan><tspan x="214.1" y="1770">net</tspan><tspan x="214.1" y="1778">1 hop</tspan></text>
<text class="m"><tspan x="235.6" y="1746">2<tspan class="a">@</tspan></tspan><tspan x="236.1" y="1754">bl.</tspan><tspan x="235.6" y="1762">spamcop.</tspan><tspan x="236.1" y="1770">net</tspan><tspan x="235.6" y="1778">3 hops</tspan></text>
<text class="m"><tspan x="258.6" y="1746">2<tspan class="a">@</tspan></tspan><tspan x="259.1" y="1754">psbl.</tspan><tspan x="258.6" y="1762">surriel.</tspan><tspan x="259.1" y="1770">com</tspan><tspan x="259.1" y="1778">1 hop</tspan></text>
<text class="m"><tspan x="281.6" y="1746">2<tspan class="a">@</tspan></tspan><tspan x="281.6" y="1754">dnsbl-1.</tspan><tspan x="282.1" y="1762">uceprotect.</tspan><tspan x="282.1" y="1770">net</tspan><tspan x="281.6" y="1778">3 hops</tspan></text>
<text class="m"><tspan x="303.6" y="1746">4<tspan class="a">@</tspan></tspan><tspan x="303.6" y="1754">zen.</tspan><tspan x="304.1" y="1762">spamhaus.</tspan><tspan x="304.1" y="1770">org</tspan><tspan x="304.1" y="1778">1 hop</tspan></text>
<text class="m"><tspan x="326.6" y="1746">2<tspan class="a">@</tspan></tspan><tspan x="326.6" y="1754">dnsbl-3.</tspan><tspan x="327.1" y="1762">uceprotect.</tspan><tspan x="327.1" y="1770">net</tspan><tspan x="326.6" y="1778">3 hops</tspan></text>
<text class="m"><tspan x="349.6" y="1746">2<tspan class="a">@</tspan></tspan><tspan x="350.1" y="1754">bl.</tspan><tspan x="349.6" y="1762">spamcop.</tspan><tspan x="350.1" y="1770">net</tspan><tspan x="350.1" y="1778">1 hop</tspan></text>
<text class="m"><tspan x="371.6" y="1746">4<tspan class="a">@</tspan></tspan><tspan x="371.6" y="1754">zen.</tspan><tspan x="372.1" y="1762">spamhaus.</tspan><tspan x="372.1" y="1770">org</tspan><tspan x="371.6" y="1778">4 hops</tspan></text>
<text class="m"><tspan x="394.6" y="1746">4<tspan class="a">@</tspan></tspan><tspan x="394.6" y="1754">zen.</tspan><tspan x="395.1" y="1762">spamhaus.</tspan><tspan x="395.1" y="1770">org</tspan><tspan x="394.6" y="1778">5 hops</tspan></text>
<text class="m"><tspan x="417.6" y="1746">3<tspan class="a">@</tspan></tspan><tspan x="417.6" y="1754">zen.</tspan><tspan x="418.1" y="1762">spamhaus.</tspan><tspan x="418.1" y="1770">org</tspan><tspan x="418.1" y="1778">1 hop</tspan></text>
<text class="m"><tspan x="439.6" y="1746">2<tspan class="a">@</tspan></tspan><tspan x="439.6" y="1754">dnsbl-2.</tspan><tspan x="440.1" y="1762">uceprotect.</tspan><tspan x="440.1" y="1770">net</tspan><tspan x="439.6" y="1778">5 hops</tspan></text>
<text class="m"><tspan x="462.6" y="1746">8<tspan class="a">@</tspan></tspan><tspan x="462.6" y="1754">Y.</tspan><tspan x="463.1" y="1762">list.</tspan><tspan x="462.6" y="1770">dnswl.</tspan><tspan x="463.1" y="1778">org</tspan><tspan x="463.1" y="1786">1 hop</tspan></text>
<text class="m"><tspan x="485.6" y="1746">3<tspan class="a">@</tspan></tspan><tspan x="485.6" y="1754">zen.</tspan><tspan x="486.1" y="1762">spamhaus.</tspan><tspan x="486.1" y="1770">org</tspan><tspan x="485.6" y="1778">2 hops</tspan></text>
<text class="m"><tspan x="507.6" y="1746">8<tspan class="a">@</tspan></tspan><tspan x="507.6" y="1754">2.</tspan><tspan x="508.1" y="1762">list.</tspan><tspan x="507.6" y="1770">dnswl.</tspan><tspan x="508.1" y="1778">org</tspan><tspan x="508.1" y="1786">1 hop</tspan></text>
<text class="m"><tspan x="530.6" y="1746">3<tspan class="a">@</tspan></tspan><tspan x="530.6" y="1754">zen.</tspan><tspan x="531.1" y="1762">spamhaus.</tspan><tspan x="531.1" y="1770">org</tspan><tspan x="530.6" y="1778">5 hops</tspan></text>
<text class="m"><tspan x="553.6" y="1746">2<tspan class="a">@</tspan></tspan><tspan x="554.1" y="1754">bl.</tspan><tspan x="553.6" y="1762">spamcop.</tspan><tspan x="554.1" y="1770">net</tspan><tspan x="553.6" y="1778">2 hops</tspan></text>
<text class="m"><tspan x="576.6" y="1746">3<tspan class="a">@</tspan></tspan><tspan x="576.6" y="1754">zen.</tspan><tspan x="577.1" y="1762">spamhaus.</tspan><tspan x="577.1" y="1770">org</tspan><tspan x="576.6" y="1778">4 hops</tspan></text>
<text class="m"><tspan x="598.6" y="1746">2<tspan class="a">@</tspan></tspan><tspan x="598.6" y="1754">dnsbl-2.</tspan><tspan x="599.1" y="1762">uceprotect.</tspan><tspan x="599.1" y="1770">net</tspan><tspan x="599.1" y="1778">1 hop</tspan></text>
<text class="m"><tspan x="621.6" y="1746">4<tspan class="a">@</tspan></tspan><tspan x="621.6" y="1754">zen.</tspan><tspan x="622.1" y="1762">spamhaus.</tspan><tspan x="622.1" y="1770">org</tspan><tspan x="621.6" y="1778">3 hops</tspan></text>
<text class="m"><tspan x="644.6" y="1746">4<tspan class="a">@</tspan></tspan><tspan x="644.6" y="1754">zen.</tspan><tspan x="645.1" y="1762">spamhaus.</tspan><tspan x="645.1" y="1770">org</tspan><tspan x="644.6" y="1778">2 hops</tspan></text>
<text class="m"><tspan x="666.6" y="1746">2<tspan class="a">@</tspan></tspan><tspan x="666.6" y="1754">dnsbl-2.</tspan><tspan x="667.1" y="1762">uceprotect.</tspan><tspan x="667.1" y="1770">net</tspan><tspan x="666.6" y="1778">2 hops</tspan></text>
<text class="m"><tspan x="690.1" y="1746">10<tspan class="a">@</tspan></tspan><tspan x="689.6" y="1754">zen.</tspan><tspan x="690.1" y="1762">spamhaus.</tspan><tspan x="690.1" y="1770">org</tspan><tspan x="689.6" y="1778">5 hops</tspan></text>
<text class="m"><tspan x="713.1" y="1746">15<tspan class="a">@</tspan></tspan><tspan x="712.6" y="1754">0.</tspan><tspan x="713.1" y="1762">list.</tspan><tspan x="712.6" y="1770">dnswl.</tspan><tspan x="713.1" y="1778">org</tspan><tspan x="713.1" y="1786">1 hop</tspan></text>
<text class="m"><tspan x="735.1" y="1746">15<tspan class="a">@</tspan></tspan><tspan x="734.6" y="1754">Y.</tspan><tspan x="735.1" y="1762">list.</tspan><tspan x="734.6" y="1770">dnswl.</tspan><tspan x="735.1" y="1778">org</tspan><tspan x="735.1" y="1786">1 hop</tspan></text>
<text class="m"><tspan x="757.6" y="1746">2<tspan class="a">@</tspan></tspan><tspan x="757.6" y="1754">dnsbl-3.</tspan><tspan x="758.1" y="1762">uceprotect.</tspan><tspan x="758.1" y="1770">net</tspan><tspan x="757.6" y="1778">5 hops</tspan></text>
<text class="m"><tspan x="781.1" y="1746">11<tspan class="a">@</tspan></tspan><tspan x="780.6" y="1754">0.</tspan><tspan x="781.1" y="1762">list.</tspan><tspan x="780.6" y="1770">dnswl.</tspan><tspan x="781.1" y="1778">org</tspan><tspan x="781.1" y="1786">1 hop</tspan></text>
<text class="m"><tspan x="802.6" y="1746">6<tspan class="a">@</tspan></tspan><tspan x="802.6" y="1754">Y.</tspan><tspan x="803.1" y="1762">list.</tspan><tspan x="802.6" y="1770">dnswl.</tspan><tspan x="803.1" y="1778">org</tspan><tspan x="802.6" y="1786">4 hops</tspan></text>
<text class="m"><tspan x="826.1" y="1746">11<tspan class="a">@</tspan></tspan><tspan x="825.6" y="1754">1.</tspan><tspan x="826.1" y="1762">list.</tspan><tspan x="825.6" y="1770">dnswl.</tspan><tspan x="826.1" y="1778">org</tspan><tspan x="825.6" y="1786">2 hops</tspan></text>
<text class="m"><tspan x="848.6" y="1746">5<tspan class="a">@</tspan></tspan><tspan x="848.6" y="1754">Y.</tspan><tspan x="849.1" y="1762">list.</tspan><tspan x="848.6" y="1770">dnswl.</tspan><tspan x="849.1" y="1778">org</tspan><tspan x="848.6" y="1786">5 hops</tspan></text>
<text class="m"><tspan x="870.6" y="1746">2<tspan class="a">@</tspan></tspan><tspan x="870.6" y="1754">dnsbl-3.</tspan><tspan x="871.1" y="1762">uceprotect.</tspan><tspan x="871.1" y="1770">net</tspan><tspan x="870.6" y="1778">2 hops</tspan></text>
<text class="m"><tspan x="894.1" y="1746">11<tspan class="a">@</tspan></tspan><tspan x="893.6" y="1754">0.</tspan><tspan x="894.1" y="1762">list.</tspan><tspan x="893.6" y="1770">dnswl.</tspan><tspan x="894.1" y="1778">org</tspan><tspan x="893.6" y="1786">2 hops</tspan></text>
<text class="m"><tspan x="916.6" y="1746">3<tspan class="a">@</tspan></tspan><tspan x="916.6" y="1754">zen.</tspan><tspan x="917.1" y="1762">spamhaus.</tspan><tspan x="917.1" y="1770">org</tspan><tspan x="916.6" y="1778">3 hops</tspan></text>
<text class="m"><tspan x="938.6" y="1746">3<tspan class="a">@</tspan></tspan><tspan x="938.6" y="1754">1.</tspan><tspan x="939.1" y="1762">list.</tspan><tspan x="938.6" y="1770">dnswl.</tspan><tspan x="939.1" y="1778">org</tspan><tspan x="938.6" y="1786">4 hops</tspan></text>
<text class="m"><tspan x="962.1" y="1746">11<tspan class="a">@</tspan></tspan><tspan x="961.6" y="1754">zen.</tspan><tspan x="962.1" y="1762">spamhaus.</tspan><tspan x="962.1" y="1770">org</tspan><tspan x="962.1" y="1778">1 hop</tspan></text>
<text class="m"><tspan x="984.6" y="1746">2<tspan class="a">@</tspan></tspan><tspan x="985.1" y="1754">psbl.</tspan><tspan x="984.6" y="1762">surriel.</tspan><tspan x="985.1" y="1770">com</tspan><tspan x="984.6" y="1778">2 hops</tspan></text>
<text class="m"><tspan x="1007.1" y="1746">11<tspan class="a">@</tspan></tspan><tspan x="1006.6" y="1754">1.</tspan><tspan x="1007.1" y="1762">list.</tspan><tspan x="1006.6" y="1770">dnswl.</tspan><tspan x="1007.1" y="1778">org</tspan><tspan x="1007.1" y="1786">1 hop</tspan></text>
<text class="m"><tspan x="1029.6" y="1746">2<tspan class="a">@</tspan></tspan><tspan x="1029.6" y="1754">dnsbl-2.</tspan><tspan x="1030.1" y="1762">uceprotect.</tspan><tspan x="1030.1" y="1770">net</tspan><tspan x="1029.6" y="1778">3 hops</tspan></text>
<text class="m"><tspan x="1052.6" y="1746">2<tspan class="a">@</tspan></tspan><tspan x="1052.6" y="1754">dnsbl-3.</tspan><tspan x="1053.1" y="1762">uceprotect.</tspan><tspan x="1053.1" y="1770">net</tspan><tspan x="1053.1" y="1778">1 hop</tspan></text>
<text class="m"><tspan x="1074.6" y="1746">2<tspan class="a">@</tspan></tspan><tspan x="1074.6" y="1754">dnsbl-2.</tspan><tspan x="1075.1" y="1762">uceprotect.</tspan><tspan x="1075.1" y="1770">net</tspan><tspan x="1074.6" y="1778">3 hops</tspan></text>
<text class="m"><tspan x="1097.6" y="1746">2<tspan class="a">@</tspan></tspan><tspan x="1097.6" y="1754">dnsbl-2.</tspan><tspan x="1098.1" y="1762">uceprotect.</tspan><tspan x="1098.1" y="1770">net</tspan><tspan x="1097.6" y="1778">4 hops</tspan></text>
<text class="m"><tspan x="1121.1" y="1746">11<tspan class="a">@</tspan></tspan><tspan x="1120.6" y="1754">Y.</tspan><tspan x="1121.1" y="1762">list.</tspan><tspan x="1120.6" y="1770">dnswl.</tspan><tspan x="1121.1" y="1778">org</tspan><tspan x="1121.1" y="1786">1 hop</tspan></text>
<text class="m"><tspan x="1142.6" y="1746">2<tspan class="a">@</tspan></tspan><tspan x="1142.6" y="1754">dnsbl-3.</tspan><tspan x="1143.1" y="1762">uceprotect.</tspan><tspan x="1143.1" y="1770">net</tspan><tspan x="1142.6" y="1778">4 hops</tspan></text>
<text class="m"><tspan x="1166.1" y="1746">11<tspan class="a">@</tspan></tspan><tspan x="1165.6" y="1754">2.</tspan><tspan x="1166.1" y="1762">list.</tspan><tspan x="1165.6" y="1770">dnswl.</tspan><tspan x="1166.1" y="1778">org</tspan><tspan x="1166.1" y="1786">1 hop</tspan></text>
<text class="m"><tspan x="1188.6" y="1746">2<tspan class="a">@</tspan></tspan><tspan x="1188.6" y="1754">ips.</tspan><tspan x="1188.6" y="1762">backscatterer.</tspan><tspan x="1189.1" y="1770">org</tspan><tspan x="1189.1" y="1778">1 hop</tspan></text>
<text class="m"><tspan x="1210.6" y="1746">2<tspan class="a">@</tspan></tspan><tspan x="1211.1" y="1754">psbl.</tspan><tspan x="1210.6" y="1762">surriel.</tspan><tspan x="1211.1" y="1770">com</tspan><tspan x="1210.6" y="1778">4 hops</tspan></text>
<text class="m"><tspan x="1233.6" y="1746">3<tspan class="a">@</tspan></tspan><tspan x="1233.6" y="1754">Y.</tspan><tspan x="1234.1" y="1762">list.</tspan><tspan x="1233.6" y="1770">dnswl.</tspan><tspan x="1234.1" y="1778">org</tspan><tspan x="1233.6" y="1786">5 hops</tspan></text>
<text class="m"><tspan x="1256.6" y="1746">2<tspan class="a">@</tspan></tspan><tspan x="1257.1" y="1754">list.</tspan><tspan x="1256.6" y="1762">dnswl.</tspan><tspan x="1257.1" y="1770">org</tspan><tspan x="1256.6" y="1778">4 hops</tspan></text>
<text class="m"><tspan x="1279.1" y="1746">11<tspan class="a">@</tspan></tspan><tspan x="1278.6" y="1754">zen.</tspan><tspan x="1279.1" y="1762">spamhaus.</tspan><tspan x="1279.1" y="1770">org</tspan><tspan x="1278.6" y="1778">2 hops</tspan></text>
<text class="m"><tspan x="1301.6" y="1746">4<tspan class="a">@</tspan></tspan><tspan x="1301.6" y="1754">3.</tspan><tspan x="1302.1" y="1762">list.</tspan><tspan x="1301.6" y="1770">dnswl.</tspan><tspan x="1302.1" y="1778">org</tspan><tspan x="1302.1" y="1786">1 hop</tspan></text>
<text class="m"><tspan x="1324.6" y="1746">3<tspan class="a">@</tspan></tspan><tspan x="1324.6" y="1754">0.</tspan><tspan x="1325.1" y="1762">list.</tspan><tspan x="1324.6" y="1770">dnswl.</tspan><tspan x="1325.1" y="1778">org</tspan><tspan x="1325.1" y="1786">1 hop</tspan></text>
<text class="m"><tspan x="1346.6" y="1746">2<tspan class="a">@</tspan></tspan><tspan x="1346.6" y="1754">ips.</tspan><tspan x="1346.6" y="1762">whitelisted.</tspan><tspan x="1347.1" y="1770">org</tspan><tspan x="1347.1" y="1778">1 hop</tspan></text>
<text class="m"><tspan x="1369.6" y="1746">4<tspan class="a">@</tspan></tspan><tspan x="1369.6" y="1754">Y.</tspan><tspan x="1370.1" y="1762">list.</tspan><tspan x="1369.6" y="1770">dnswl.</tspan><tspan x="1370.1" y="1778">org</tspan><tspan x="1370.1" y="1786">1 hop</tspan></text>
<text class="m"><tspan x="1392.6" y="1746">4<tspan class="a">@</tspan></tspan><tspan x="1392.6" y="1754">2.</tspan><tspan x="1393.1" y="1762">list.</tspan><tspan x="1392.6" y="1770">dnswl.</tspan><tspan x="1393.1" y="1778">org</tspan><tspan x="1393.1" y="1786">1 hop</tspan></text>
<text class="m"><tspan x="1414.6" y="1746">none</tspan><tspan x="1415.1" y="1754">1 hop</tspan></text>
<text class="m"><tspan x="1438.1" y="1746">20<tspan class="a">@</tspan></tspan><tspan x="1437.6" y="1754">0.</tspan><tspan x="1438.1" y="1762">list.</tspan><tspan x="1437.6" y="1770">dnswl.</tspan><tspan x="1438.1" y="1778">org</tspan><tspan x="1438.1" y="1786">1 hop</tspan></text>
<text class="m"><tspan x="1461.1" y="1746">20<tspan class="a">@</tspan></tspan><tspan x="1460.6" y="1754">Y.</tspan><tspan x="1461.1" y="1762">list.</tspan><tspan x="1460.6" y="1770">dnswl.</tspan><tspan x="1461.1" y="1778">org</tspan><tspan x="1461.1" y="1786">1 hop</tspan></text>
<text class="m"><tspan x="1482.6" y="1746">9<tspan class="a">@</tspan></tspan><tspan x="1482.6" y="1754">2.</tspan><tspan x="1483.1" y="1762">list.</tspan><tspan x="1482.6" y="1770">dnswl.</tspan><tspan x="1483.1" y="1778">org</tspan><tspan x="1482.6" y="1786">4 hops</tspan></text>
<text class="m"><tspan x="1506.1" y="1746">10<tspan class="a">@</tspan></tspan><tspan x="1505.6" y="1754">0.</tspan><tspan x="1506.1" y="1762">list.</tspan><tspan x="1505.6" y="1770">dnswl.</tspan><tspan x="1506.1" y="1778">org</tspan><tspan x="1506.1" y="1786">1 hop</tspan></text>
<text class="m"><tspan x="1528.6" y="1746">5<tspan class="a">@</tspan></tspan><tspan x="1528.6" y="1754">0.</tspan><tspan x="1529.1" y="1762">list.</tspan><tspan x="1528.6" y="1770">dnswl.</tspan><tspan x="1529.1" y="1778">org</tspan><tspan x="1528.6" y="1786">4 hops</tspan></text>
<text class="m"><tspan x="1551.1" y="1746">10<tspan class="a">@</tspan></tspan><tspan x="1550.6" y="1754">zen.</tspan><tspan x="1551.1" y="1762">spamhaus.</tspan><tspan x="1551.1" y="1770">org</tspan><tspan x="1551.1" y="1778">1 hop</tspan></text>
<text class="m"><tspan x="1574.1" y="1746">10<tspan class="a">@</tspan></tspan><tspan x="1573.6" y="1754">Y.</tspan><tspan x="1574.1" y="1762">list.</tspan><tspan x="1573.6" y="1770">dnswl.</tspan><tspan x="1574.1" y="1778">org</tspan><tspan x="1574.1" y="1786">1 hop</tspan></text>
<text class="m"><tspan x="1596.6" y="1746">9<tspan class="a">@</tspan></tspan><tspan x="1596.6" y="1754">Y.</tspan><tspan x="1597.1" y="1762">list.</tspan><tspan x="1596.6" y="1770">dnswl.</tspan><tspan x="1597.1" y="1778">org</tspan><tspan x="1596.6" y="1786">4 hops</tspan></text>
<text class="m"><tspan x="1620.1" y="1746">11<tspan class="a">@</tspan></tspan><tspan x="1619.6" y="1754">Y.</tspan><tspan x="1620.1" y="1762">list.</tspan><tspan x="1619.6" y="1770">dnswl.</tspan><tspan x="1620.1" y="1778">org</tspan><tspan x="1619.6" y="1786">2 hops</tspan></text>
<text class="m"><tspan x="1641.6" y="1746">2<tspan class="a">@</tspan></tspan><tspan x="1641.6" y="1754">ips.</tspan><tspan x="1641.6" y="1762">whitelisted.</tspan><tspan x="1642.1" y="1770">org</tspan><tspan x="1641.6" y="1778">4 hops</tspan></text>
<text class="m"><tspan x="1664.6" y="1746">5<tspan class="a">@</tspan></tspan><tspan x="1664.6" y="1754">Y.</tspan><tspan x="1665.1" y="1762">list.</tspan><tspan x="1664.6" y="1770">dnswl.</tspan><tspan x="1665.1" y="1778">org</tspan><tspan x="1664.6" y="1786">4 hops</tspan></text>
<text class="m"><tspan x="1687.6" y="1746">none</tspan><tspan x="1687.6" y="1754">5 hops</tspan></text>
<text class="m"><tspan x="1709.6" y="1746">1<tspan class="a">@</tspan></tspan><tspan x="1710.1" y="1754">list.</tspan><tspan x="1709.6" y="1762">dnswl.</tspan><tspan x="1710.1" y="1770">org</tspan><tspan x="1709.6" y="1778">4 hops</tspan></text>
<text class="m"><tspan x="1732.6" y="1746">3<tspan class="a">@</tspan></tspan><tspan x="1732.6" y="1754">Y.</tspan><tspan x="1733.1" y="1762">list.</tspan><tspan x="1732.6" y="1770">dnswl.</tspan><tspan x="1733.1" y="1778">org</tspan><tspan x="1733.1" y="1786">1 hop</tspan></text>
<text class="m"><tspan x="1755.6" y="1746">none</tspan><tspan x="1755.6" y="1754">4 hops</tspan></text>
<text class="m"><tspan x="1777.6" y="1746">0<tspan class="a">@</tspan></tspan><tspan x="1778.1" y="1754">list.</tspan><tspan x="1777.6" y="1762">dnswl.</tspan><tspan x="1778.1" y="1770">org</tspan><tspan x="1778.1" y="1778">1 hop</tspan></text>
<text class="m"><tspan x="1800.6" y="1746">5<tspan class="a">@</tspan></tspan><tspan x="1800.6" y="1754">1.</tspan><tspan x="1801.1" y="1762">list.</tspan><tspan x="1800.6" y="1770">dnswl.</tspan><tspan x="1801.1" y="1778">org</tspan><tspan x="1801.1" y="1786">1 hop</tspan></text>
<text class="m"><tspan x="1824.1" y="1746">11<tspan class="a">@</tspan></tspan><tspan x="1823.6" y="1754">2.</tspan><tspan x="1824.1" y="1762">list.</tspan><tspan x="1823.6" y="1770">dnswl.</tspan><tspan x="1824.1" y="1778">org</tspan><tspan x="1823.6" y="1786">2 hops</tspan></text>
<text class="m"><tspan x="1845.6" y="1746">2<tspan class="a">@</tspan></tspan><tspan x="1845.6" y="1754">ips.</tspan><tspan x="1845.6" y="1762">backscatterer.</tspan><tspan x="1846.1" y="1770">org</tspan><tspan x="1845.6" y="1778">2 hops</tspan></text>
<text class="m"><tspan x="1869.1" y="1746">10<tspan class="a">@</tspan></tspan><tspan x="1868.6" y="1754">zen.</tspan><tspan x="1869.1" y="1762">spamhaus.</tspan><tspan x="1869.1" y="1770">org</tspan><tspan x="1868.6" y="1778">2 hops</tspan></text>
<text class="m"><tspan x="1892.1" y="1746">11<tspan class="a">@</tspan></tspan><tspan x="1891.6" y="1754">zen.</tspan><tspan x="1892.1" y="1762">spamhaus.</tspan><tspan x="1892.1" y="1770">org</tspan><tspan x="1891.6" y="1778">3 hops</tspan></text>
<text class="m"><tspan x="1913.6" y="1746">5<tspan class="a">@</tspan></tspan><tspan x="1913.6" y="1754">Y.</tspan><tspan x="1914.1" y="1762">list.</tspan><tspan x="1913.6" y="1770">dnswl.</tspan><tspan x="1914.1" y="1778">org</tspan><tspan x="1914.1" y="1786">1 hop</tspan></text>
<text class="m"><tspan x="1936.6" y="1746">2<tspan class="a">@</tspan></tspan><tspan x="1936.6" y="1754">ips.</tspan><tspan x="1936.6" y="1762">whitelisted.</tspan><tspan x="1937.1" y="1770">org</tspan><tspan x="1936.6" y="1778">2 hops</tspan></text>
<text class="m"><tspan x="1959.6" y="1746">none</tspan><tspan x="1959.6" y="1754">3 hops</tspan></text>
<text class="m"><tspan x="1981.6" y="1746">5<tspan class="a">@</tspan></tspan><tspan x="1981.6" y="1754">1.</tspan><tspan x="1982.1" y="1762">list.</tspan><tspan x="1981.6" y="1770">dnswl.</tspan><tspan x="1982.1" y="1778">org</tspan><tspan x="1981.6" y="1786">4 hops</tspan></text>
<text class="m"><tspan x="2004.6" y="1746">3<tspan class="a">@</tspan></tspan><tspan x="2005.1" y="1754">list.</tspan><tspan x="2004.6" y="1762">dnswl.</tspan><tspan x="2005.1" y="1770">org</tspan><tspan x="2005.1" y="1778">1 hop</tspan></text>
<text class="m"><tspan x="2027.6" y="1746">5<tspan class="a">@</tspan></tspan><tspan x="2027.6" y="1754">1.</tspan><tspan x="2028.1" y="1762">list.</tspan><tspan x="2027.6" y="1770">dnswl.</tspan><tspan x="2028.1" y="1778">org</tspan><tspan x="2027.6" y="1786">3 hops</tspan></text>
<text class="m"><tspan x="2049.6" y="1746">5<tspan class="a">@</tspan></tspan><tspan x="2049.6" y="1754">0.</tspan><tspan x="2050.1" y="1762">list.</tspan><tspan x="2049.6" y="1770">dnswl.</tspan><tspan x="2050.1" y="1778">org</tspan><tspan x="2050.1" y="1786">1 hop</tspan></text>
<text class="m"><tspan x="2073.1" y="1746">14<tspan class="a">@</tspan></tspan><tspan x="2072.6" y="1754">2.</tspan><tspan x="2073.1" y="1762">list.</tspan><tspan x="2072.6" y="1770">dnswl.</tspan><tspan x="2073.1" y="1778">org</tspan><tspan x="2073.1" y="1786">1 hop</tspan></text>
<text class="m"><tspan x="2095.6" y="1746">3<tspan class="a">@</tspan></tspan><tspan x="2095.6" y="1754">1.</tspan><tspan x="2096.1" y="1762">list.</tspan><tspan x="2095.6" y="1770">dnswl.</tspan><tspan x="2096.1" y="1778">org</tspan><tspan x="2096.1" y="1786">1 hop</tspan></text>
<text class="m"><tspan x="2117.6" y="1746">1<tspan class="a">@</tspan></tspan><tspan x="2118.1" y="1754">list.</tspan><tspan x="2117.6" y="1762">dnswl.</tspan><tspan x="2118.1" y="1770">org</tspan><tspan x="2118.1" y="1778">1 hop</tspan></text>
<text class="m"><tspan x="2140.6" y="1746">none</tspan><tspan x="2140.6" y="1754">2 hops</tspan></text>
<text class="m"><tspan x="2164.1" y="1746">14<tspan class="a">@</tspan></tspan><tspan x="2163.6" y="1754">Y.</tspan><tspan x="2164.1" y="1762">list.</tspan><tspan x="2163.6" y="1770">dnswl.</tspan><tspan x="2164.1" y="1778">org</tspan><tspan x="2164.1" y="1786">1 hop</tspan></text>
<text class="m"><tspan x="2186.1" y="1746">11<tspan class="a">@</tspan></tspan><tspan x="2185.6" y="1754">zen.</tspan><tspan x="2186.1" y="1762">spamhaus.</tspan><tspan x="2186.1" y="1770">org</tspan><tspan x="2185.6" y="1778">6 hops</tspan></text>
<text class="m"><tspan x="2209.1" y="1746">11<tspan class="a">@</tspan></tspan><tspan x="2208.6" y="1754">zen.</tspan><tspan x="2209.1" y="1762">spamhaus.</tspan><tspan x="2209.1" y="1770">org</tspan><tspan x="2208.6" y="1778">4 hops</tspan></text>
<text class="m"><tspan x="2232.1" y="1746">11<tspan class="a">@</tspan></tspan><tspan x="2231.6" y="1754">Y.</tspan><tspan x="2232.1" y="1762">list.</tspan><tspan x="2231.6" y="1770">dnswl.</tspan><tspan x="2232.1" y="1778">org</tspan><tspan x="2231.6" y="1786">3 hops</tspan></text>
<text class="m"><tspan x="2253.6" y="1746">1<tspan class="a">@</tspan></tspan><tspan x="2254.1" y="1754">list.</tspan><tspan x="2253.6" y="1762">dnswl.</tspan><tspan x="2254.1" y="1770">org</tspan><tspan x="2253.6" y="1778">3 hops</tspan></text>
<text class="m"><tspan x="2276.6" y="1746">3<tspan class="a">@</tspan></tspan><tspan x="2276.6" y="1754">1.</tspan><tspan x="2277.1" y="1762">list.</tspan><tspan x="2276.6" y="1770">dnswl.</tspan><tspan x="2277.1" y="1778">org</tspan><tspan x="2276.6" y="1786">3 hops</tspan></text>
<text class="m"><tspan x="2300.1" y="1746">15<tspan class="a">@</tspan></tspan><tspan x="2299.6" y="1754">0.</tspan><tspan x="2300.1" y="1762">list.</tspan><tspan x="2299.6" y="1770">dnswl.</tspan><tspan x="2300.1" y="1778">org</tspan><tspan x="2299.6" y="1786">2 hops</tspan></text>
<text class="m"><tspan x="2321.6" y="1746">5<tspan class="a">@</tspan></tspan><tspan x="2321.6" y="1754">2.</tspan><tspan x="2322.1" y="1762">list.</tspan><tspan x="2321.6" y="1770">dnswl.</tspan><tspan x="2322.1" y="1778">org</tspan><tspan x="2321.6" y="1786">2 hops</tspan></text>
<text class="m"><tspan x="2345.1" y="1746">15<tspan class="a">@</tspan></tspan><tspan x="2344.6" y="1754">Y.</tspan><tspan x="2345.1" y="1762">list.</tspan><tspan x="2344.6" y="1770">dnswl.</tspan><tspan x="2345.1" y="1778">org</tspan><tspan x="2344.6" y="1786">2 hops</tspan></text>
<text class="m"><tspan x="2368.1" y="1746">11<tspan class="a">@</tspan></tspan><tspan x="2367.6" y="1754">zen.</tspan><tspan x="2368.1" y="1762">spamhaus.</tspan><tspan x="2368.1" y="1770">org</tspan><tspan x="2367.6" y="1778">5 hops</tspan></text>
<text class="m"><tspan x="2389.6" y="1746">5<tspan class="a">@</tspan></tspan><tspan x="2389.6" y="1754">1.</tspan><tspan x="2390.1" y="1762">list.</tspan><tspan x="2389.6" y="1770">dnswl.</tspan><tspan x="2390.1" y="1778">org</tspan><tspan x="2389.6" y="1786">2 hops</tspan></text>
<text class="m"><tspan x="2413.1" y="1746">10<tspan class="a">@</tspan></tspan><tspan x="2412.6" y="1754">zen.</tspan><tspan x="2413.1" y="1762">spamhaus.</tspan><tspan x="2413.1" y="1770">org</tspan><tspan x="2412.6" y="1778">3 hops</tspan></text>
<text class="m"><tspan x="2436.1" y="1746">13<tspan class="a">@</tspan></tspan><tspan x="2435.6" y="1754">Y.</tspan><tspan x="2436.1" y="1762">list.</tspan><tspan x="2435.6" y="1770">dnswl.</tspan><tspan x="2436.1" y="1778">org</tspan><tspan x="2436.1" y="1786">1 hop</tspan></text>
<text class="m"><tspan x="2457.6" y="1746">6<tspan class="a">@</tspan></tspan><tspan x="2457.6" y="1754">2.</tspan><tspan x="2458.1" y="1762">list.</tspan><tspan x="2457.6" y="1770">dnswl.</tspan><tspan x="2458.1" y="1778">org</tspan><tspan x="2458.1" y="1786">1 hop</tspan></text>
<text class="m"><tspan x="2480.6" y="1746">3<tspan class="a">@</tspan></tspan><tspan x="2480.6" y="1754">2.</tspan><tspan x="2481.1" y="1762">list.</tspan><tspan x="2480.6" y="1770">dnswl.</tspan><tspan x="2481.1" y="1778">org</tspan><tspan x="2481.1" y="1786">1 hop</tspan></text>
<text class="m"><tspan x="2503.6" y="1746">3<tspan class="a">@</tspan></tspan><tspan x="2503.6" y="1754">0.</tspan><tspan x="2504.1" y="1762">list.</tspan><tspan x="2503.6" y="1770">dnswl.</tspan><tspan x="2504.1" y="1778">org</tspan><tspan x="2503.6" y="1786">2 hops</tspan></text>
<text class="m"><tspan x="2525.6" y="1746">6<tspan class="a">@</tspan></tspan><tspan x="2525.6" y="1754">Y.</tspan><tspan x="2526.1" y="1762">list.</tspan><tspan x="2525.6" y="1770">dnswl.</tspan><tspan x="2526.1" y="1778">org</tspan><tspan x="2526.1" y="1786">1 hop</tspan></text>
<text class="m"><tspan x="2548.6" y="1746">5<tspan class="a">@</tspan></tspan><tspan x="2548.6" y="1754">Y.</tspan><tspan x="2549.1" y="1762">list.</tspan><tspan x="2548.6" y="1770">dnswl.</tspan><tspan x="2549.1" y="1778">org</tspan><tspan x="2548.6" y="1786">2 hops</tspan></text>
<text class="m"><tspan x="2572.1" y="1746">10<tspan class="a">@</tspan></tspan><tspan x="2571.6" y="1754">zen.</tspan><tspan x="2572.1" y="1762">spamhaus.</tspan><tspan x="2572.1" y="1770">org</tspan><tspan x="2571.6" y="1778">4 hops</tspan></text>
<text class="m"><tspan x="2593.6" y="1746">0<tspan class="a">@</tspan></tspan><tspan x="2594.1" y="1754">list.</tspan><tspan x="2593.6" y="1762">dnswl.</tspan><tspan x="2594.1" y="1770">org</tspan><tspan x="2593.6" y="1778">2 hops</tspan></text>
<text class="m"><tspan x="2616.6" y="1746">2<tspan class="a">@</tspan></tspan><tspan x="2617.1" y="1754">psbl.</tspan><tspan x="2616.6" y="1762">surriel.</tspan><tspan x="2617.1" y="1770">com</tspan><tspan x="2616.6" y="1778">3 hops</tspan></text>
<text class="m"><tspan x="2639.6" y="1746">1<tspan class="a">@</tspan></tspan><tspan x="2640.1" y="1754">list.</tspan><tspan x="2639.6" y="1762">dnswl.</tspan><tspan x="2640.1" y="1770">org</tspan><tspan x="2639.6" y="1778">2 hops</tspan></text>
<text class="m"><tspan x="2662.6" y="1746">5<tspan class="a">@</tspan></tspan><tspan x="2662.6" y="1754">0.</tspan><tspan x="2663.1" y="1762">list.</tspan><tspan x="2662.6" y="1770">dnswl.</tspan><tspan x="2663.1" y="1778">org</tspan><tspan x="2662.6" y="1786">2 hops</tspan></text>
<text class="m"><tspan x="2684.6" y="1746">3<tspan class="a">@</tspan></tspan><tspan x="2684.6" y="1754">Y.</tspan><tspan x="2685.1" y="1762">list.</tspan><tspan x="2684.6" y="1770">dnswl.</tspan><tspan x="2685.1" y="1778">org</tspan><tspan x="2684.6" y="1786">2 hops</tspan></text>
<text class="m"><tspan x="2707.6" y="1746">3<tspan class="a">@</tspan></tspan><tspan x="2707.6" y="1754">Y.</tspan><tspan x="2708.1" y="1762">list.</tspan><tspan x="2707.6" y="1770">dnswl.</tspan><tspan x="2708.1" y="1778">org</tspan><tspan x="2707.6" y="1786">2 hops</tspan></text>
<text class="m"><tspan x="2730.6" y="1746">3<tspan class="a">@</tspan></tspan><tspan x="2730.6" y="1754">0.</tspan><tspan x="2731.1" y="1762">list.</tspan><tspan x="2730.6" y="1770">dnswl.</tspan><tspan x="2731.1" y="1778">org</tspan><tspan x="2730.6" y="1786">3 hops</tspan></text>
<text class="m"><tspan x="2753.1" y="1746">14<tspan class="a">@</tspan></tspan><tspan x="2752.6" y="1754">2.</tspan><tspan x="2753.1" y="1762">list.</tspan><tspan x="2752.6" y="1770">dnswl.</tspan><tspan x="2753.1" y="1778">org</tspan><tspan x="2752.6" y="1786">2 hops</tspan></text>
<text class="m"><tspan x="2775.6" y="1746">0<tspan class="a">@</tspan></tspan><tspan x="2776.1" y="1754">list.</tspan><tspan x="2775.6" y="1762">dnswl.</tspan><tspan x="2776.1" y="1770">org</tspan><tspan x="2775.6" y="1778">4 hops</tspan></text>
<text class="m"><tspan x="2799.1" y="1746">14<tspan class="a">@</tspan></tspan><tspan x="2798.6" y="1754">Y.</tspan><tspan x="2799.1" y="1762">list.</tspan><tspan x="2798.6" y="1770">dnswl.</tspan><tspan x="2799.1" y="1778">org</tspan><tspan x="2798.6" y="1786">2 hops</tspan></text>
<text class="m"><tspan x="2820.6" y="1746">5<tspan class="a">@</tspan></tspan><tspan x="2820.6" y="1754">Y.</tspan><tspan x="2821.1" y="1762">list.</tspan><tspan x="2820.6" y="1770">dnswl.</tspan><tspan x="2821.1" y="1778">org</tspan><tspan x="2820.6" y="1786">2 hops</tspan></text>
<text class="m"><tspan x="2843.6" y="1746">9<tspan class="a">@</tspan></tspan><tspan x="2843.6" y="1754">3.</tspan><tspan x="2844.1" y="1762">list.</tspan><tspan x="2843.6" y="1770">dnswl.</tspan><tspan x="2844.1" y="1778">org</tspan><tspan x="2844.1" y="1786">1 hop</tspan></text>
<text class="m"><tspan x="2866.6" y="1746">2<tspan class="a">@</tspan></tspan><tspan x="2867.1" y="1754">list.</tspan><tspan x="2866.6" y="1762">dnswl.</tspan><tspan x="2867.1" y="1770">org</tspan><tspan x="2867.1" y="1778">1 hop</tspan></text>
<text class="m"><tspan x="2888.6" y="1746">0<tspan class="a">@</tspan></tspan><tspan x="2889.1" y="1754">list.</tspan><tspan x="2888.6" y="1762">dnswl.</tspan><tspan x="2889.1" y="1770">org</tspan><tspan x="2888.6" y="1778">3 hops</tspan></text>
<text class="m"><tspan x="2911.6" y="1746">6<tspan class="a">@</tspan></tspan><tspan x="2911.6" y="1754">2.</tspan><tspan x="2912.1" y="1762">list.</tspan><tspan x="2911.6" y="1770">dnswl.</tspan><tspan x="2912.1" y="1778">org</tspan><tspan x="2911.6" y="1786">2 hops</tspan></text>
<text class="m"><tspan x="2934.6" y="1746">9<tspan class="a">@</tspan></tspan><tspan x="2934.6" y="1754">2.</tspan><tspan x="2935.1" y="1762">list.</tspan><tspan x="2934.6" y="1770">dnswl.</tspan><tspan x="2935.1" y="1778">org</tspan><tspan x="2935.1" y="1786">1 hop</tspan></text>
<text class="m"><tspan x="2956.6" y="1746">5<tspan class="a">@</tspan></tspan><tspan x="2956.6" y="1754">0.</tspan><tspan x="2957.1" y="1762">list.</tspan><tspan x="2956.6" y="1770">dnswl.</tspan><tspan x="2957.1" y="1778">org</tspan><tspan x="2956.6" y="1786">3 hops</tspan></text>
<text class="m"><tspan x="2979.6" y="1746">6<tspan class="a">@</tspan></tspan><tspan x="2979.6" y="1754">Y.</tspan><tspan x="2980.1" y="1762">list.</tspan><tspan x="2979.6" y="1770">dnswl.</tspan><tspan x="2980.1" y="1778">org</tspan><tspan x="2979.6" y="1786">2 hops</tspan></text>
<text class="m"><tspan x="3002.6" y="1746">9<tspan class="a">@</tspan></tspan><tspan x="3002.6" y="1754">Y.</tspan><tspan x="3003.1" y="1762">list.</tspan><tspan x="3002.6" y="1770">dnswl.</tspan><tspan x="3003.1" y="1778">org</tspan><tspan x="3003.1" y="1786">1 hop</tspan></text>
<text class="m"><tspan x="3024.6" y="1746">3<tspan class="a">@</tspan></tspan><tspan x="3024.6" y="1754">1.</tspan><tspan x="3025.1" y="1762">list.</tspan><tspan x="3024.6" y="1770">dnswl.</tspan><tspan x="3025.1" y="1778">org</tspan><tspan x="3024.6" y="1786">3 hops</tspan></text>
<text class="m"><tspan x="3047.6" y="1746">9<tspan class="a">@</tspan></tspan><tspan x="3047.6" y="1754">1.</tspan><tspan x="3048.1" y="1762">list.</tspan><tspan x="3047.6" y="1770">dnswl.</tspan><tspan x="3048.1" y="1778">org</tspan><tspan x="3047.6" y="1786">2 hops</tspan></text>
<text class="m"><tspan x="3070.6" y="1746">9<tspan class="a">@</tspan></tspan><tspan x="3070.6" y="1754">0.</tspan><tspan x="3071.1" y="1762">list.</tspan><tspan x="3070.6" y="1770">dnswl.</tspan><tspan x="3071.1" y="1778">org</tspan><tspan x="3071.1" y="1786">1 hop</tspan></text>
<text class="m"><tspan x="3092.6" y="1746">2<tspan class="a">@</tspan></tspan><tspan x="3092.6" y="1754">ips.</tspan><tspan x="3092.6" y="1762">backscatterer.</tspan><tspan x="3093.1" y="1770">org</tspan><tspan x="3092.6" y="1778">3 hops</tspan></text>
<text class="m"><tspan x="3115.6" y="1746">2<tspan class="a">@</tspan></tspan><tspan x="3116.1" y="1754">list.</tspan><tspan x="3115.6" y="1762">dnswl.</tspan><tspan x="3116.1" y="1770">org</tspan><tspan x="3115.6" y="1778">2 hops</tspan></text>
<text class="m"><tspan x="3138.6" y="1746">3<tspan class="a">@</tspan></tspan><tspan x="3138.6" y="1754">Y.</tspan><tspan x="3139.1" y="1762">list.</tspan><tspan x="3138.6" y="1770">dnswl.</tspan><tspan x="3139.1" y="1778">org</tspan><tspan x="3138.6" y="1786">4 hops</tspan></text>
<text class="m"><tspan x="3160.6" y="1746">3<tspan class="a">@</tspan></tspan><tspan x="3160.6" y="1754">2.</tspan><tspan x="3161.1" y="1762">list.</tspan><tspan x="3160.6" y="1770">dnswl.</tspan><tspan x="3161.1" y="1778">org</tspan><tspan x="3160.6" y="1786">2 hops</tspan></text></g>
</svg></body></html>
